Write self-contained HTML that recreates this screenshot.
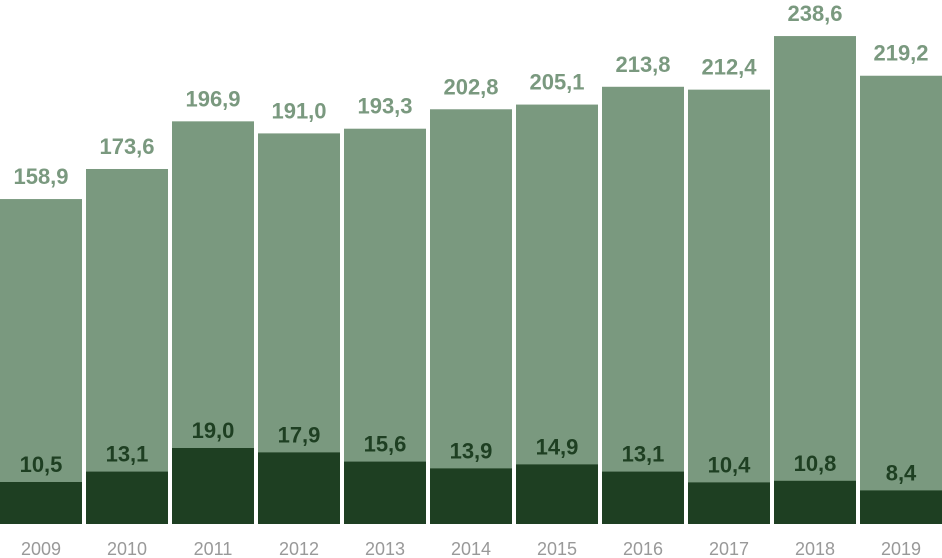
<!DOCTYPE html>
<html><head><meta charset="utf-8"><style>
html,body{margin:0;padding:0;background:#fff;}
svg{display:block;font-family:"Liberation Sans",sans-serif;}
</style></head><body>
<svg id="chart" width="942" height="558" viewBox="0 0 942 558"></svg>
<script>
const years=["2009","2010","2011","2012","2013","2014","2015","2016","2017","2018","2019"];
const totals=[158.9,173.6,196.9,191.0,193.3,202.8,205.1,213.8,212.4,238.6,219.2];
const parts=[10.5,13.1,19.0,17.9,15.6,13.9,14.9,13.1,10.4,10.8,8.4];
const svg=document.getElementById('chart');
const NS='http://www.w3.org/2000/svg';
const base=524, step=86, bw=82;
const yTot=v=>base-v*2.045;
const yPart=v=>base-v*4.0;
const xBand=i=>i*step;
const fmt=v=>v.toFixed(1).replace('.',',');
function mk(tag,attrs){const e=document.createElementNS(NS,tag);for(const k in attrs)e.setAttribute(k,attrs[k]);svg.appendChild(e);return e;}
years.forEach((y,i)=>{
  const x=xBand(i);
  const r1=mk('rect',{x:x,y:yTot(totals[i]),width:bw,height:base-yTot(totals[i]),fill:'#7a997f'});
  
  
  const r2=mk('rect',{x:x,y:yPart(parts[i]),width:bw,height:base-yPart(parts[i]),fill:'#1e3f22'});
  
  
  const t1=mk('text',{x:x+bw/2,y:yTot(totals[i])-15,'text-anchor':'middle','font-size':22,'font-weight':'bold',fill:'#7a997f'});
  t1.textContent=fmt(totals[i]);
  
  
  const t2=mk('text',{x:x+bw/2,y:yPart(parts[i])-10,'text-anchor':'middle','font-size':22,'font-weight':'bold',fill:'#1e3f22'});
  t2.textContent=fmt(parts[i]);
  
  
  const t3=mk('text',{x:x+bw/2,y:555,'text-anchor':'middle','font-size':18,fill:'#999999'});
  t3.textContent=y;
  
  
});
</script>
</body></html>
